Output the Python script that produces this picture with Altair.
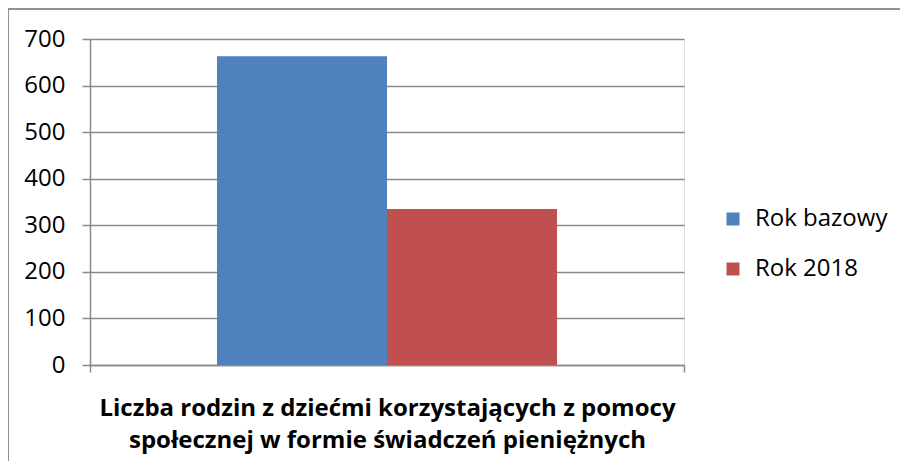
import altair as alt
import pandas as pd

category = ["Liczba rodzin z dziećmi korzystających z pomocy społecznej w formie świadczeń pieniężnych"]
series = ["Rok bazowy", "Rok 2018"]
values = [663, 335]
colors = ["#4F81BD", "#C0504D"]
y_ticks = [0, 100, 200, 300, 400, 500, 600, 700]
title_lines = ["Liczba rodzin z dziećmi korzystających z pomocy",
               "społecznej w formie świadczeń pieniężnych"]

df = pd.DataFrame({"cat": category * len(series), "series": series, "value": values})

FONT = "Open Sans"
GRID = "#8a8a8a"

bars = alt.Chart(df).mark_bar().encode(
    x=alt.X("cat:N",
            scale=alt.Scale(paddingInner=0, paddingOuter=0),
            axis=alt.Axis(labels=False, title=title_lines, titleFont=FONT, titleFontSize=24,
                          titleFontWeight="bold", titleColor="#000", titlePadding=24,
                          titleLineHeight=32,
                          domainColor=GRID, domainWidth=1.5, tickColor=GRID, tickWidth=1.5,
                          tickSize=7, tickBand="extent", grid=False)),
    xOffset=alt.XOffset("series:N", sort=series,
                        scale=alt.Scale(paddingInner=0, paddingOuter=0.747)),
    y=alt.Y("value:Q",
            scale=alt.Scale(domain=[0, 700], nice=False),
            axis=alt.Axis(values=y_ticks, title=None, labelFont=FONT, labelFontSize=24,
                          labelColor="#000", labelPadding=17, tickSize=8, tickColor=GRID,
                          tickWidth=1.5, domainColor=GRID, domainWidth=1.5,
                          gridColor=GRID, gridWidth=1.5)),
    color=alt.Color("series:N", sort=series,
                    scale=alt.Scale(domain=series, range=colors),
                    legend=alt.Legend(title=None, orient="none", legendX=631, legendY=168,
                                      symbolType="square", symbolSize=169, symbolStrokeWidth=0,
                                      symbolOpacity=1,
                                      labelFont=FONT, labelFontSize=24, labelColor="#000",
                                      labelOffset=10, rowPadding=26)),
)

border_top = alt.Chart(df).mark_rule(color="#8a8a8a", strokeWidth=1.5).encode(
    x=alt.value(-82), x2=alt.value(830), y=alt.value(-30))
border_left = alt.Chart(df).mark_rule(color="#8a8a8a", strokeWidth=1.5).encode(
    x=alt.value(-82), y=alt.value(-30), y2=alt.value(500))

chart = alt.layer(bars, border_top, border_left).properties(
    width=594, height=326,
    padding={"left": 82, "top": 31, "right": 216, "bottom": 96},
    autosize=alt.AutoSizeParams(type="none"),
).configure_view(stroke=None).configure(background="white")

chart.save("out.html", embed_options={"renderer": "svg", "actions": False})
